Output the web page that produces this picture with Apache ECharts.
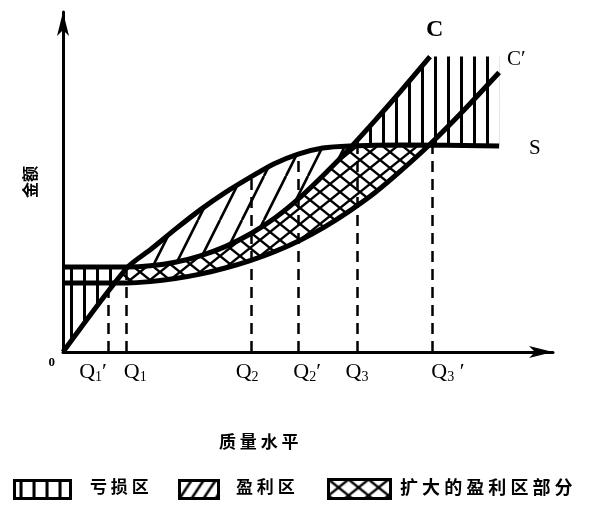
<!DOCTYPE html>
<html>
<head>
<meta charset="utf-8">
<script src="https://cdn.jsdelivr.net/npm/echarts@6/dist/echarts.min.js"></script>
<style>
html, body { margin: 0; padding: 0; background: #fff; }
#chart { width: 604px; height: 508px; }
</style>
</head>
<body>
<div id="chart"></div>
<script>
// 横轴: 质量水平, 纵轴: 金额 (0~100)
var sCurve = [[0, 0], [13, 24.7], [18, 30.3], [23, 36.2], [28, 41.8], [33, 46.8], [38, 51.2], [43, 55.3], [48, 58.2], [53, 60], [58.5, 60.6], [69, 60.9], [89, 60.6]];
var cCurve = [[0, 25], [13, 25], [17.8, 25.35], [22.9, 26.4], [28, 28.3], [33.1, 31], [38.2, 34.7], [43.3, 39.5], [48.4, 45.5], [53.5, 52.5], [58.6, 60], [63.7, 68.1], [68.8, 76.5], [74.9, 86.9]];
var c2Curve = [[0, 20.3], [13, 20.3], [17.8, 20.7], [22.9, 21.6], [28, 22.9], [33.1, 24.7], [38.2, 26.9], [43.3, 29.6], [48.4, 32.9], [53.5, 36.9], [58.6, 41.6], [63.7, 46.9], [68.8, 53.1], [74.9, 61.1], [82, 71.4], [89, 82.2]];
var qValues = [9.2, 12.9, 38.4, 48, 60, 75.3];
var qLabels = ["Q1′", "Q1", "Q2", "Q2′", "Q3", "Q3 ′"];
var qShift = [-15, 9, -4, 9, 0, 16]; // 标签左右微调(px)

// 线性插值取值, 超出范围取端点
function valAt(curve, x) {
  if (x <= curve[0][0]) return curve[0][1];
  for (var i = 1; i < curve.length; i++) {
    if (x <= curve[i][0]) {
      var a = curve[i - 1], b = curve[i];
      return a[1] + (b[1] - a[1]) * (x - a[0]) / (b[0] - a[0]);
    }
  }
  return curve[curve.length - 1][1];
}
function band(topFn, botFn, x0, x1) {
  var up = [], down = [];
  for (var x = x0; x <= x1 + 1e-9; x += 0.25) {
    var b = botFn(x), t = Math.max(topFn(x), b);
    up.push([x, t]);
    down.unshift([x, b]);
  }
  return up.concat(down);
}
function makePattern(w, h, draw) {
  var cv = document.createElement("canvas");
  cv.width = w; cv.height = h;
  var ctx = cv.getContext("2d");
  ctx.strokeStyle = "#000";
  draw(ctx, w, h);
  return { image: cv, repeat: "repeat" };
}
function slashPattern(w, h, lw) {
  return makePattern(w, h, function (ctx) {
    ctx.lineWidth = lw;
    ctx.beginPath();
    for (var k = -1; k <= 1; k++) { ctx.moveTo(k * w, h); ctx.lineTo(k * w + w, 0); }
    ctx.stroke();
  });
}
var vPat = makePattern(13, 13, function (ctx, w, h) {
  ctx.lineWidth = 3;
  ctx.beginPath(); ctx.moveTo(6.5, 0); ctx.lineTo(6.5, h); ctx.stroke();
});
var dPat = slashPattern(22, 44, 2.6);
var dPatSmall = slashPattern(12, 18, 2.6);
var xPat = makePattern(20, 16, function (ctx, w, h) {
  ctx.lineWidth = 2.4;
  ctx.beginPath();
  for (var k = -1; k <= 1; k++) {
    ctx.moveTo(k * w, h); ctx.lineTo(k * w + w, 0);
    ctx.moveTo(k * w, 0); ctx.lineTo(k * w + w, h);
  }
  ctx.stroke();
});

var S = function (x) { return valAt(sCurve, x); };
var C = function (x) { return valAt(cCurve, x); };
var C2 = function (x) { return valAt(c2Curve, x); };
var xEnd = sCurve[sCurve.length - 1][0];

var lossPoly = band(C, S, 0, xEnd);
var profitPoly = band(S, C, 0, xEnd);
var morePoly = band(function (x) { return Math.min(S(x), C(x)); }, C2, 0, xEnd);

function areaSeries(poly, pat) {
  return {
    type: "custom",
    silent: true,
    z: 1,
    data: [0],
    renderItem: function (params, api) {
      return {
        type: "polygon",
        shape: { points: poly.map(function (p) { return api.coord(p); }) },
        style: { fill: pat, stroke: null }
      };
    }
  };
}

var rich = {
  q: { fontFamily: "Liberation Serif", fontSize: 22, color: "#000", lineHeight: 24 },
  s: { fontFamily: "Liberation Serif", fontSize: 14, color: "#000", lineHeight: 10, verticalAlign: "bottom" }
};
qShift.forEach(function (d, i) {
  rich["l" + i] = { width: d > 0 ? 2 * d : 0, height: 1 };
  rich["r" + i] = { width: d < 0 ? -2 * d : 0, height: 1 };
});

var serif = "Liberation Serif";
var cjk = "Noto Sans CJK SC";

// Q1' 与 Q1 挨得太近, 分到两条重叠的 x 轴上, 避免标签被隐藏
function qAxis(idx, showLine) {
  return {
    type: "value",
    min: 0,
    max: 100,
    position: "bottom",
    splitLine: { show: false },
    axisTick: { show: false },
    axisLine: { show: showLine, lineStyle: { color: "#000", width: 3 }, symbol: ["none", "arrow"], symbolSize: [9, 24] },
    axisLabel: {
      customValues: idx.map(function (i) { return qValues[i]; }),
      hideOverlap: false,
      margin: 8,
      formatter: function (v) {
        var i = qValues.indexOf(v);
        var t = qLabels[i];
        return "{l" + i + "|}{q|Q}{s|" + t.charAt(1) + "}{q|" + t.slice(2) + "}{r" + i + "|}";
      },
      rich: rich
    }
  };
}

function curveSeries(name, data, label) {
  return {
    type: "line",
    name: name,
    data: data,
    symbol: "none",
    smooth: 0.25,
    z: 3,
    lineStyle: { color: "#000", width: 5 },
    endLabel: label
  };
}

var chart = echarts.init(document.getElementById("chart"));
var sSeries = curveSeries("S", sCurve, { show: true, formatter: "S", offset: [22, 3], fontFamily: serif, fontSize: 21, color: "#000" });
sSeries.markLine = {
  silent: true,
  symbol: "none",
  label: { show: false },
  lineStyle: { color: "#000", width: 2.5, type: [11, 7] },
  data: qValues.map(function (q) { return [{ coord: [q, 0] }, { coord: [q, S(q)] }]; })
};

var option = {
  animation: false,
  backgroundColor: "#fff",
  title: {
    text: "质 量 水 平",
    left: 214,
    top: 428,
    textStyle: { fontFamily: cjk, fontSize: 17, fontWeight: "bold", color: "#000" }
  },
  grid: { left: 63, right: 51, top: 12, bottom: 156 },
  xAxis: [qAxis([1, 2, 3, 4, 5], true), qAxis([0], false)],
  yAxis: {
    type: "value",
    min: 0,
    max: 100,
    name: "金额",
    nameLocation: "middle",
    nameRotate: 90,
    nameGap: 22,
    nameTextStyle: { fontFamily: cjk, fontSize: 16, fontWeight: "bold", color: "#000" },
    splitLine: { show: false },
    axisTick: { show: false },
    axisLine: { lineStyle: { color: "#000", width: 3 }, symbol: ["none", "arrow"], symbolSize: [9, 24] },
    axisLabel: {
      customValues: [0],
      formatter: function () { return "0"; },
      margin: 8,
      verticalAlign: "top",
      lineHeight: 22,
      fontFamily: serif,
      fontSize: 13,
      fontWeight: "bold",
      color: "#000"
    }
  },
  series: [
    areaSeries(lossPoly, vPat),
    areaSeries(profitPoly, dPat),
    areaSeries(morePoly, xPat),
    sSeries,
    curveSeries("C", cCurve, { show: true, formatter: "C", offset: [-12, -27], fontFamily: serif, fontSize: 24, fontWeight: "bold", color: "#000" }),
    curveSeries("C'", c2Curve, { show: true, formatter: "C′", offset: [0, -13], fontFamily: serif, fontSize: 21, color: "#000" })
  ],
  graphic: [
    { type: "rect", left: 13, top: 479, shape: { width: 56, height: 18 }, style: { fill: vPat, stroke: "#000", lineWidth: 3 } },
    { type: "text", left: 90, top: 478, style: { text: "亏 损 区", font: "bold 17px 'Noto Sans CJK SC'", fill: "#000" } },
    { type: "rect", left: 178, top: 479, shape: { width: 39, height: 18 }, style: { fill: dPatSmall, stroke: "#000", lineWidth: 3 } },
    { type: "text", left: 236, top: 478, style: { text: "盈 利 区", font: "bold 17px 'Noto Sans CJK SC'", fill: "#000" } },
    { type: "rect", left: 327, top: 478, shape: { width: 62, height: 19 }, style: { fill: xPat, stroke: "#000", lineWidth: 3 } },
    { type: "text", left: 400, top: 478, style: { text: "扩 大 的 盈 利 区 部 分", font: "bold 18px 'Noto Sans CJK SC'", fill: "#000" } }
  ]
};
chart.setOption(option);
</script>
</body>
</html>
